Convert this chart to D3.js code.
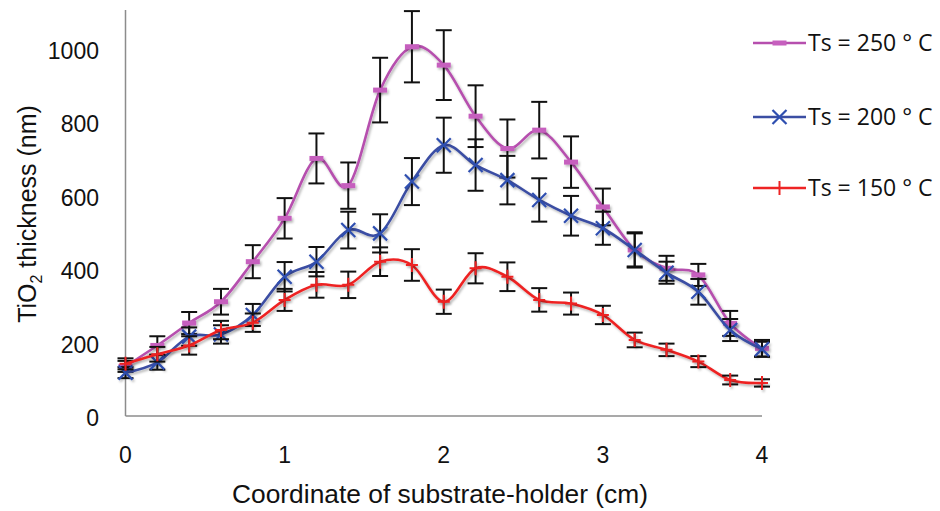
<!DOCTYPE html>
<html><head><meta charset="utf-8">
<script src="https://cdn.jsdelivr.net/npm/d3@7"></script>
<style>body{margin:0;background:#fff}</style>
</head><body>
<svg id="c" width="940" height="511"></svg>
<script>
const xs = [0,0.2,0.4,0.6,0.8,1.0,1.2,1.4,1.6,1.8,2.0,2.2,2.4,2.6,2.8,3.0,3.2,3.4,3.6,3.8,4.0];
const ts250 = [135,192,253,311,420,538,701,627,887,1005,955,816,728,778,691,569,452,402,384,252,184];
const err250 = [15,25,30,35,45,55,68,63,88,97,95,84,79,77,70,50,48,34,30,34,23];
const ts200 = [118,146,216,222,275,379,420,506,497,638,737,683,642,588,545,511,452,390,338,234,182];
const err200 = [15,20,25,25,30,40,40,50,52,64,75,70,66,59,54,45,45,30,35,30,20];
const ts150 = [142,168,192,234,254,316,357,357,420,411,311,402,379,316,306,275,207,180,148,98,90];
const err150 = [15,20,25,25,25,30,35,36,39,43,33,41,39,32,30,25,20,17,15,12,10];
const yTicks = [0,200,400,600,800,1000];
const xTicks = [0,1,2,3,4];
const seriesNames = ["Ts = 250 ° C","Ts = 200 ° C","Ts = 150 ° C"];
const colors = ["#b64fae","#3b4ea3","#ee2424"];

const svg = d3.select("#c");
const x = d3.scaleLinear().domain([0,4]).range([125.5,762]);
const y = d3.scaleLinear().domain([0,1105]).range([416,10]);

const defs = svg.append("defs");
const f = defs.append("filter").attr("id","sh").attr("x","-10%").attr("y","-10%").attr("width","130%").attr("height","130%");
f.append("feDropShadow").attr("dx",1.5).attr("dy",2).attr("stdDeviation",1.2).attr("flood-color","#000").attr("flood-opacity",0.28);

// axes
const ax = svg.append("g").attr("stroke","#8c8c8c").attr("stroke-width",1.5);
ax.append("line").attr("x1",x(0)).attr("x2",x(0)).attr("y1",y(1105)).attr("y2",y(0));
ax.append("line").attr("x1",x(0)).attr("x2",x(4)).attr("y1",y(0)).attr("y2",y(0));

svg.append("g").selectAll("text").data(yTicks).join("text")
  .attr("x",99).attr("y",d=>y(d)+2).attr("dy","0.36em").attr("text-anchor","end")
  .attr("font-family","Liberation Sans").attr("font-size",23).attr("fill","#111").text(d=>d);
svg.append("g").selectAll("text").data(xTicks).join("text")
  .attr("x",d=>x(d)).attr("y",455).attr("dy","0.36em").attr("text-anchor","middle")
  .attr("font-family","Liberation Sans").attr("font-size",23).attr("fill","#111").text(d=>d);

svg.append("text").attr("x",440).attr("y",494).attr("dy","0.36em").attr("text-anchor","middle")
  .attr("font-family","Liberation Sans").attr("font-size",25).attr("fill","#111")
  .attr("textLength",416).attr("lengthAdjust","spacingAndGlyphs")
  .text("Coordinate of substrate-holder (cm)");
const yt = svg.append("text").attr("transform","translate(27,214) rotate(-90)").attr("text-anchor","middle")
  .attr("dy","0.36em").attr("font-family","Liberation Sans").attr("font-size",25).attr("fill","#111");
yt.append("tspan").text("TiO");
yt.append("tspan").attr("font-size",16).attr("dy",6).text("2");
yt.append("tspan").attr("dy",-6).text(" thickness (nm)");

const data = [[ts250,err250],[ts200,err200],[ts150,err150]];
const line = d3.line().x(d=>x(d[0])).y(d=>y(d[1])).curve(d3.curveCardinal.tension(0));

function marker(g, i, cx, cy){
  if(i===0){
    g.append("rect").attr("x",cx-7).attr("y",cy-2.5).attr("width",14).attr("height",5).attr("fill","#c65fbe");
  } else if(i===1){
    g.append("path").attr("d",`M${cx-7},${cy-7}L${cx+7},${cy+7}M${cx-7},${cy+7}L${cx+7},${cy-7}`)
      .attr("stroke","#2f4fb0").attr("stroke-width",2.2).attr("fill","none");
  } else {
    g.append("path").attr("d",`M${cx},${cy-7}L${cx},${cy+7}M${cx-6},${cy}L${cx+6},${cy}`)
      .attr("stroke","#ee2424").attr("stroke-width",2).attr("fill","none");
  }
}

data.forEach(([vals,errs],i)=>{
  const g = svg.append("g");
  const pts = xs.map((xv,k)=>[xv,vals[k]]);
  g.append("path").datum(pts).attr("d",line).attr("fill","none").attr("stroke",colors[i])
    .attr("stroke-width",2.6).attr("filter","url(#sh)");
  const eb = g.append("g").attr("stroke","#111").attr("stroke-width",2);
  xs.forEach((xv,k)=>{
    const cx = x(xv), t = y(vals[k]+errs[k]), b = y(vals[k]-errs[k]);
    eb.append("line").attr("x1",cx).attr("x2",cx).attr("y1",t).attr("y2",b);
    eb.append("line").attr("x1",cx-8).attr("x2",cx+8).attr("y1",t).attr("y2",t);
    eb.append("line").attr("x1",cx-8).attr("x2",cx+8).attr("y1",b).attr("y2",b);
  });
  const mg = g.append("g").attr("filter","url(#sh)");
  xs.forEach((xv,k)=>marker(mg,i,x(xv),y(vals[k])));
});

// legend
const legY = [43,117,188];
seriesNames.forEach((n,i)=>{
  const g = svg.append("g");
  g.append("line").attr("x1",753).attr("x2",806).attr("y1",legY[i]).attr("y2",legY[i])
    .attr("stroke",colors[i]).attr("stroke-width",2.6);
  marker(g,i,779.5,legY[i]);
  g.append("text").attr("x",808).attr("y",legY[i]).attr("dy","0.36em")
    .attr("font-family","Open Sans").attr("font-size",23).attr("fill","#111").text(n);
});
</script>
</body></html>
